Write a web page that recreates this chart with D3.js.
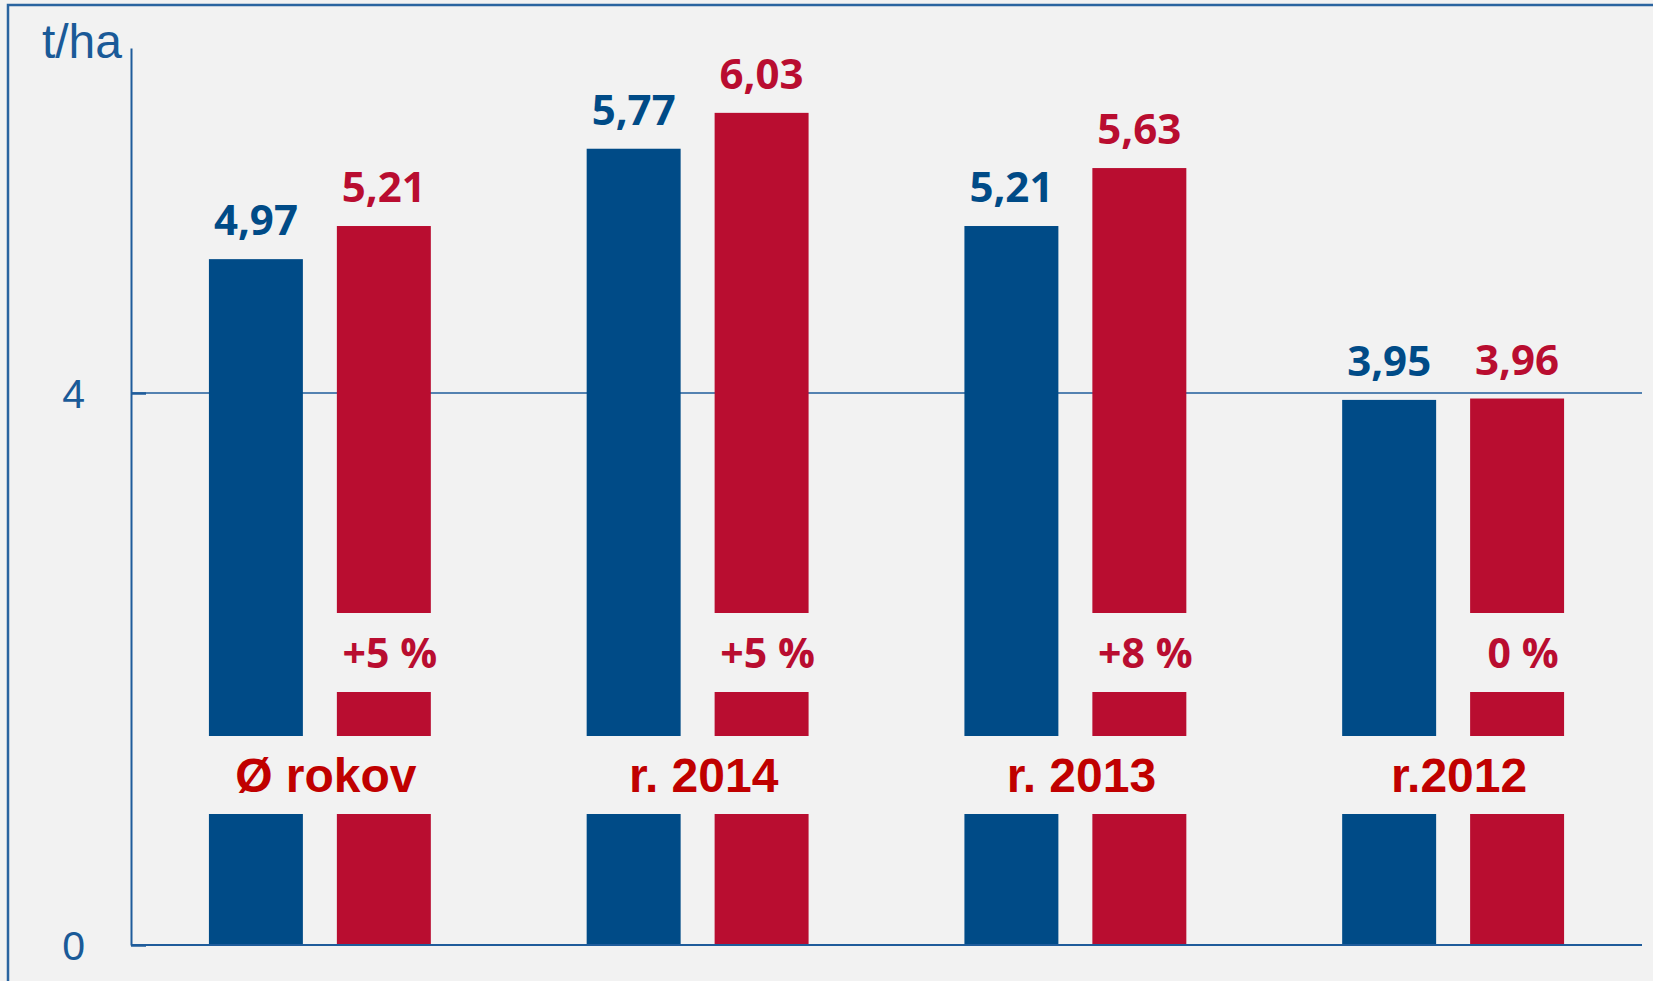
<!DOCTYPE html>
<html>
<head>
<meta charset="utf-8">
<script src="https://cdn.jsdelivr.net/npm/d3@7.9.0/dist/d3.min.js"></script>
<style>
  body { margin: 0; background: #f2f2f2; }
  svg { display: block; }
</style>
</head>
<body>
<div id="chart"></div>
<script>
// data
const categories = ['Ø rokov', 'r. 2014', 'r. 2013', 'r.2012'];
const blueValues = [4.97, 5.77, 5.21, 3.95];
const redValues = [5.21, 6.03, 5.63, 3.96];
const changeLabels = ['+5 %', '+5 %', '+8 %', '0 %'];
const yTicks = [0, 4];

const width = 1653, height = 981;
const plotLeft = 131, plotRight = 1642, plotTop = 48, plotBottom = 945;

const blue = '#004b87', red = '#b90d30', axisColor = '#1f5c9b', bg = '#f2f2f2';

const locale = d3.formatLocale({ decimal: ',', thousands: ' ', grouping: [3], currency: ['', ''] });
const fmt = locale.format('.2f');

const svg = d3.select('#chart').append('svg')
    .attr('width', width)
    .attr('height', height);

// frame (right and bottom edges run off the picture)
svg.append('rect')
    .attr('x', 8).attr('y', 5)
    .attr('width', width + 20).attr('height', height + 20)
    .attr('fill', bg)
    .attr('stroke', '#2a64a0')
    .attr('stroke-width', 2.5);

const x = d3.scaleBand().domain(categories).range([plotLeft, plotRight]).padding(0);
const sub = d3.scaleBand().domain(['blue', 'red']).range([0, x.bandwidth()])
    .paddingInner(0.2656).paddingOuter(0.609);
const y = d3.scaleLinear().domain([0, 6.5]).range([plotBottom, plotTop]);

// gridline at 4
svg.append('g').selectAll('line')
    .data(yTicks.filter(d => d > 0))
    .join('line')
    .attr('x1', plotLeft).attr('x2', plotRight)
    .attr('y1', d => y(d)).attr('y2', d => y(d))
    .attr('stroke', axisColor)
    .attr('stroke-width', 1.5);

const rows = categories.map((c, i) => ({ cat: c, blue: blueValues[i], red: redValues[i], change: changeLabels[i] }));

// bars are broken where the labels sit
const catBand = [736, 814];
const pctBand = [613, 692];

function pieces(value, bands) {
    let segs = [[y(value), y(0)]];
    bands.forEach(([b0, b1]) => {
        segs = segs.flatMap(([s0, s1]) => {
            const out = [];
            if (b0 > s0) out.push([s0, Math.min(s1, b0)]);
            if (b1 < s1) out.push([Math.max(s0, b1), s1]);
            return out.filter(([a, b]) => b > a);
        });
    });
    return segs;
}

const groups = svg.append('g').selectAll('g')
    .data(rows)
    .join('g')
    .attr('transform', d => `translate(${x(d.cat)},0)`);

groups.selectAll('rect.blue')
    .data(d => pieces(d.blue, [catBand]))
    .join('rect')
    .attr('class', 'blue')
    .attr('x', sub('blue')).attr('width', sub.bandwidth())
    .attr('y', d => d[0]).attr('height', d => d[1] - d[0])
    .attr('fill', blue);

groups.selectAll('rect.red')
    .data(d => pieces(d.red, [pctBand, catBand]))
    .join('rect')
    .attr('class', 'red')
    .attr('x', sub('red')).attr('width', sub.bandwidth())
    .attr('y', d => d[0]).attr('height', d => d[1] - d[0])
    .attr('fill', red);

// value labels
const labelFont = "'Open Sans', 'Noto Sans', sans-serif";
groups.append('text')
    .attr('x', sub('blue') + sub.bandwidth() / 2)
    .attr('y', d => y(d.blue) - 24)
    .attr('text-anchor', 'middle')
    .attr('font-family', labelFont).attr('font-weight', 700).attr('font-size', 42)
    .attr('fill', blue)
    .text(d => fmt(d.blue));

groups.append('text')
    .attr('x', sub('red') + sub.bandwidth() / 2)
    .attr('y', d => y(d.red) - 24)
    .attr('text-anchor', 'middle')
    .attr('font-family', labelFont).attr('font-weight', 700).attr('font-size', 42)
    .attr('fill', red)
    .text(d => fmt(d.red));

// change labels
groups.append('text')
    .attr('x', sub('red') + sub.bandwidth() / 2 + 6)
    .attr('y', 668)
    .attr('text-anchor', 'middle')
    .attr('font-family', labelFont).attr('font-weight', 700).attr('font-size', 41)
    .attr('fill', red)
    .text(d => d.change);

// category labels
groups.append('text')
    .attr('x', x.bandwidth() / 2 + 6)
    .attr('y', 792)
    .attr('text-anchor', 'middle')
    .attr('font-family', "'Liberation Sans', Arial, sans-serif")
    .attr('font-weight', 700).attr('font-size', 48)
    .attr('fill', '#c00000')
    .text(d => d.cat);

// y axis
const yAxis = svg.append('g')
    .attr('transform', `translate(${plotLeft},0)`)
    .call(d3.axisLeft(y).tickValues(yTicks).tickFormat(d3.format('d'))
        .tickSizeInner(-15).tickSizeOuter(0).tickPadding(46));
yAxis.select('.domain').attr('stroke', axisColor).attr('stroke-width', 2);
yAxis.selectAll('.tick line').attr('stroke', axisColor).attr('stroke-width', 2.5);
yAxis.selectAll('.tick text')
    .attr('font-family', "'Liberation Sans', Arial, sans-serif")
    .attr('font-size', 41)
    .attr('fill', '#1a5a98')
    .attr('dy', '0.36em');

// baseline
svg.append('line')
    .attr('x1', plotLeft).attr('x2', plotRight)
    .attr('y1', y(0)).attr('y2', y(0))
    .attr('stroke', axisColor)
    .attr('stroke-width', 2);

// unit
svg.append('text')
    .attr('x', 122).attr('y', 58)
    .attr('text-anchor', 'end')
    .attr('font-family', "'Liberation Sans', Arial, sans-serif")
    .attr('font-size', 48)
    .attr('fill', '#1a5a98')
    .text('t/ha');
</script>
</body>
</html>
